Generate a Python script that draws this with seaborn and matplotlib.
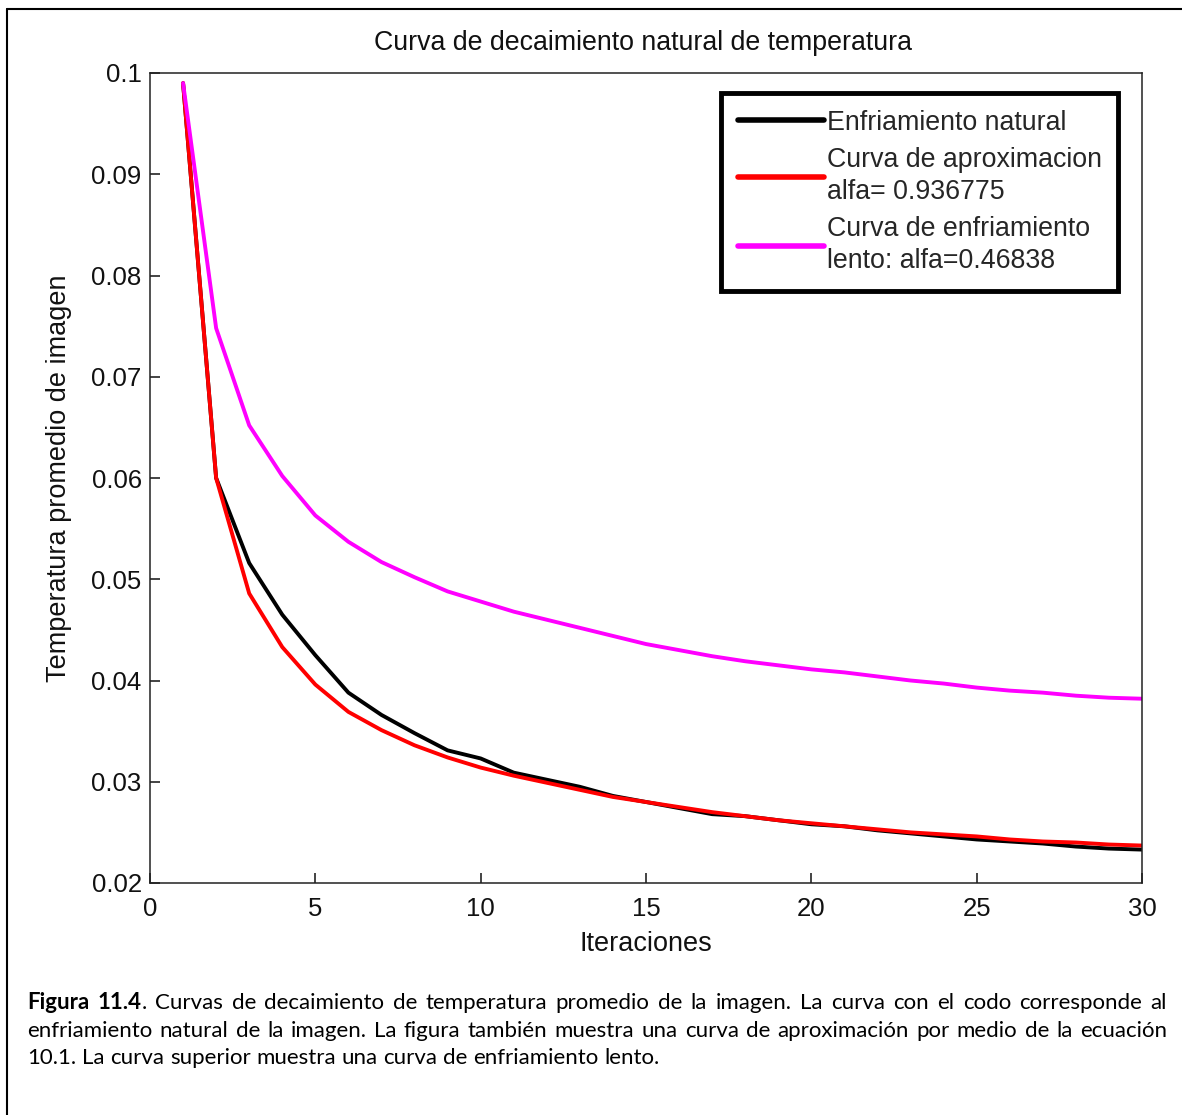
import matplotlib
matplotlib.use("Agg")
import matplotlib.pyplot as plt
import pandas as pd
import seaborn as sns
from matplotlib.lines import Line2D

#------
# Datos
#------
iteraciones = list(range(1, 31))
natural = [0.0990, 0.0600, 0.0516, 0.0465, 0.0425, 0.0388, 0.0366, 0.0348, 0.0331, 0.0323,
           0.0309, 0.0302, 0.0295, 0.0286, 0.0280, 0.0274, 0.0268, 0.0266, 0.0262, 0.0258,
           0.0256, 0.0252, 0.0249, 0.0246, 0.0243, 0.0241, 0.0239, 0.0236, 0.0234, 0.0233]
aproximacion = [0.0990, 0.0600, 0.0486, 0.0433, 0.0396, 0.0369, 0.0351, 0.0336, 0.0324, 0.0314,
                0.0306, 0.0299, 0.0292, 0.0285, 0.0280, 0.0275, 0.0270, 0.0266, 0.0262, 0.0259,
                0.0256, 0.0253, 0.0250, 0.0248, 0.0246, 0.0243, 0.0241, 0.0240, 0.0238, 0.0237]
lento = [0.0990, 0.0748, 0.0652, 0.0602, 0.0563, 0.0537, 0.0517, 0.0502, 0.0488, 0.0478,
         0.0468, 0.0460, 0.0452, 0.0444, 0.0436, 0.0430, 0.0424, 0.0419, 0.0415, 0.0411,
         0.0408, 0.0404, 0.0400, 0.0397, 0.0393, 0.0390, 0.0388, 0.0385, 0.0383, 0.0382]

series = ["Enfriamiento natural",
          "Curva de aproximacion\nalfa= 0.936775",
          "Curva de enfriamiento\nlento: alfa=0.46838"]
colores = ["#000000", "#ff0000", "#ff00ff"]

y_ticks = [0.02, 0.03, 0.04, 0.05, 0.06, 0.07, 0.08, 0.09, 0.1]
y_labels = ["0.02", "0.03", "0.04", "0.05", "0.06", "0.07", "0.08", "0.09", "0.1"]
x_ticks = [0, 5, 10, 15, 20, 25, 30]

caption_lines = [
    "Figura 11.4. Curvas de decaimiento de temperatura promedio de la imagen. La curva con el codo corresponde al",
    "enfriamiento natural de la imagen. La figura también muestra una curva de aproximación por medio de la ecuación",
    "10.1. La curva superior muestra una curva de enfriamiento lento.",
]

df = pd.DataFrame({
    "iter": iteraciones * 3,
    "temp": natural + aproximacion + lento,
    "serie": [series[0]] * 30 + [series[1]] * 30 + [series[2]] * 30,
})

#------
# Plot
#------
sns.set_theme(style="white")
plt.rcParams["font.family"] = ["Liberation Sans", "DejaVu Sans"]

W, H = 1182, 1115
fig = plt.figure(figsize=(W / 100, H / 100), dpi=100)
ax = fig.add_axes([150 / W, 1 - 883 / H, (1142 - 150) / W, (883 - 73) / H])

sns.lineplot(data=df, x="iter", y="temp", hue="serie", hue_order=series,
             palette=colores, linewidth=2.8, ax=ax, legend=False)

ax.set_xlim(0, 30)
ax.set_ylim(0.02, 0.1)
ax.set_xticks(x_ticks)
ax.set_xticklabels([str(t) for t in x_ticks])
ax.set_yticks(y_ticks)
ax.set_yticklabels(y_labels)
ax.tick_params(direction="in", length=7, width=1.1, labelsize=18.5,
               colors="#111111", pad=6, bottom=True, left=True)
ax.tick_params(axis="x", pad=10)
for sp in ax.spines.values():
    sp.set_visible(True)
    sp.set_color("#222222")
    sp.set_linewidth(1.1)

ax.set_xlabel("Iteraciones", fontsize=19.5, color="#111111", labelpad=7)
ax.set_ylabel("Temperatura promedio de imagen", fontsize=19.5, color="#111111", labelpad=14)
fig.text(643 / W, 1 - 43 / H, "Curva de decaimiento natural de temperatura",
         ha="center", va="center", fontsize=19.3, color="#111111")

leg = ax.legend(handles=ax.get_lines()[:3], labels=series, loc="upper right",
                bbox_to_anchor=(0.976, 0.975), borderaxespad=0, fontsize=19.3,
                fancybox=False, edgecolor="black", framealpha=1,
                handlelength=3.2, handletextpad=0.1, borderpad=0.62, labelspacing=0.42)
leg.get_frame().set_linewidth(3.5)
for ln in leg.get_lines():
    ln.set_linewidth(4)
for t in leg.get_texts():
    t.set_linespacing(1.3)

# marco exterior
fig.add_artist(Line2D([7 / W, 1], [1 - 9 / H, 1 - 9 / H], transform=fig.transFigure,
                      color="black", linewidth=1.5))
fig.add_artist(Line2D([7 / W, 7 / W], [1 - 9 / H, 0], transform=fig.transFigure,
                      color="black", linewidth=1.5))

#----------------------
# Pie de figura (justo)
#----------------------
renderer = fig.canvas.get_renderer()
cap_kw = dict(fontsize=16, family=["Lato", "DejaVu Sans"], color="black", va="baseline")


def ancho(s, weight):
    t = fig.text(0, 0, s, fontweight=weight, **cap_kw)
    w = t.get_window_extent(renderer).width
    t.remove()
    return w


x0, x1 = 27, 1167
baselines = [1009, 1037, 1064]
for i, linea in enumerate(caption_lines):
    palabras = linea.split()
    segs = []
    for j, p in enumerate(palabras):
        if i == 0 and j == 0:
            segs.append([(p, "bold")])
        elif i == 0 and j == 1:
            segs.append([(p[:-1], "bold"), (".", "normal")])
        else:
            segs.append([(p, "normal")])
    anchos = [sum(ancho(s, w) for s, w in seg) for seg in segs]
    if i < len(caption_lines) - 1:
        gap = (x1 - x0 - sum(anchos)) / (len(segs) - 1)
    else:
        gap = ancho("a b", "normal") - ancho("ab", "normal")
    x = x0
    for seg, aw in zip(segs, anchos):
        xx = x
        for s, w in seg:
            fig.text(xx / W, 1 - baselines[i] / H, s, fontweight=w, **cap_kw)
            xx += ancho(s, w)
        x += aw + gap

fig.savefig("out.png", dpi=100)
